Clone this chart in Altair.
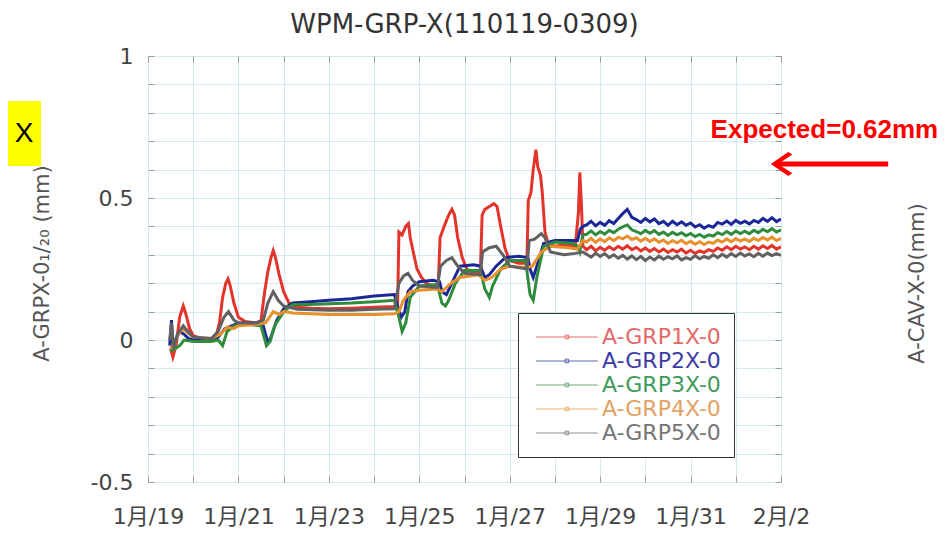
import altair as alt
import pandas as pd

# ---------------- data ----------------
series_names = ["A-GRP1X-0", "A-GRP2X-0", "A-GRP3X-0", "A-GRP4X-0", "A-GRP5X-0"]
line_colors = ["#e3342b", "#1b2796", "#2f8c3c", "#e8902c", "#616161"]
label_colors = ["#e46a6a", "#3c3ca6", "#3f9b5a", "#e2a265", "#757575"]

# day of January (Feb 1 = 32, Feb 2 = 33)
red_days = [19.50, 19.55, 19.62, 19.70, 19.78, 19.84, 19.92, 20.00, 20.20, 20.40,
            20.50, 20.58, 20.65, 20.72, 20.77, 20.82, 20.90, 21.00, 21.15, 21.40,
            21.50, 21.58, 21.65, 21.72, 21.77, 21.82, 21.90, 22.00, 22.12, 22.30,
            22.60, 23.00, 23.50, 24.00, 24.45, 24.52, 24.55, 24.62, 24.70, 24.76,
            24.80, 24.88, 24.95, 25.05, 25.15, 25.30, 25.42, 25.46, 25.55, 25.65,
            25.72, 25.78, 25.85, 25.95, 26.05, 26.20, 26.35, 26.39, 26.45, 26.55,
            26.65, 26.72, 26.80, 26.90, 27.00, 27.20, 27.38, 27.41, 27.47, 27.52,
            27.58, 27.62, 27.68, 27.72, 27.78, 27.85, 28.00, 28.20, 28.45, 28.52,
            28.55, 28.58, 28.62]
red_vals = [-0.03, -0.06, -0.02, 0.08, 0.12, 0.09, 0.04, 0.015, 0.005, 0.005,
            0.01, 0.06, 0.15, 0.20, 0.215, 0.19, 0.13, 0.08, 0.065, 0.06,
            0.07, 0.17, 0.24, 0.29, 0.315, 0.29, 0.23, 0.17, 0.13, 0.115,
            0.112, 0.11, 0.112, 0.115, 0.118, 0.12, 0.38, 0.37, 0.40, 0.41,
            0.36, 0.30, 0.25, 0.22, 0.20, 0.19, 0.195, 0.36, 0.40, 0.44,
            0.46, 0.44, 0.36, 0.29, 0.25, 0.235, 0.235, 0.44, 0.46, 0.47,
            0.48, 0.47, 0.40, 0.32, 0.28, 0.27, 0.27, 0.49, 0.52, 0.60,
            0.67, 0.61, 0.58, 0.52, 0.38, 0.34, 0.33, 0.335, 0.33, 0.45,
            0.59, 0.50, 0.33]

blue_days = [19.48, 19.52, 19.55, 19.60, 19.70, 19.80, 19.90, 20.00, 20.40, 20.55,
             20.70, 20.85, 21.00, 21.40, 21.55, 21.65, 21.72, 21.85, 22.00, 22.20,
             22.60, 23.00, 23.50, 24.00, 24.45, 24.52, 24.60, 24.68, 24.75, 24.85,
             25.00, 25.30, 25.45, 25.50, 25.60, 25.75, 25.90, 26.20, 26.35, 26.45,
             26.55, 26.70, 26.90, 27.20, 27.40, 27.45, 27.52, 27.60, 27.75, 28.00,
             28.30, 28.50, 28.56, 28.62]
blue_vals = [-0.02, 0.07, -0.02, 0.00, 0.03, 0.02, 0.005, 0.00, 0.00, 0.01,
             0.04, 0.05, 0.06, 0.06, 0.05, -0.01, 0.01, 0.07, 0.11, 0.13,
             0.135, 0.14, 0.145, 0.155, 0.16, 0.12, 0.08, 0.10, 0.17, 0.19,
             0.205, 0.21, 0.205, 0.17, 0.16, 0.21, 0.26, 0.265, 0.26, 0.22,
             0.23, 0.26, 0.29, 0.295, 0.29, 0.25, 0.22, 0.26, 0.34, 0.35,
             0.35, 0.35, 0.39, 0.40]

green_days = [19.50, 19.60, 19.70, 19.80, 20.00, 20.40, 20.55, 20.65, 20.75, 20.90,
              21.20, 21.50, 21.62, 21.70, 21.80, 22.00, 22.20, 22.60, 23.00, 23.50,
              24.00, 24.45, 24.55, 24.62, 24.70, 24.80, 25.00, 25.40, 25.50, 25.58,
              25.65, 25.80, 26.00, 26.35, 26.45, 26.55, 26.62, 26.80, 27.00, 27.35,
              27.45, 27.52, 27.60, 27.75, 28.00, 28.40, 28.50, 28.55, 28.58, 28.62]
green_vals = [-0.04, -0.03, -0.02, 0.00, -0.005, -0.005, 0.00, -0.02, 0.03, 0.05,
              0.055, 0.05, -0.02, -0.005, 0.05, 0.10, 0.125, 0.125, 0.128, 0.13,
              0.135, 0.14, 0.08, 0.03, 0.06, 0.15, 0.19, 0.195, 0.13, 0.12,
              0.14, 0.20, 0.245, 0.245, 0.18, 0.15, 0.19, 0.25, 0.28, 0.28,
              0.16, 0.14, 0.22, 0.33, 0.345, 0.34, 0.33, 0.31, 0.34, 0.37]

orange_days = [19.50, 19.60, 19.75, 19.85, 20.00, 20.40, 20.60, 20.75, 20.90, 21.00,
               21.40, 21.60, 21.77, 21.90, 22.00, 22.20, 22.60, 23.00, 23.50, 24.00,
               24.45, 24.55, 24.65, 24.80, 25.00, 25.40, 25.50, 25.70, 25.90, 26.30,
               26.45, 26.60, 26.80, 27.00, 27.35, 27.50, 27.70, 27.90, 28.30, 28.50,
               28.62]
orange_vals = [-0.03, 0.00, 0.04, 0.03, 0.01, 0.005, 0.02, 0.045, 0.04, 0.05,
               0.055, 0.06, 0.10, 0.09, 0.10, 0.095, 0.092, 0.09, 0.09, 0.09,
               0.092, 0.10, 0.14, 0.17, 0.175, 0.18, 0.17, 0.20, 0.22, 0.23,
               0.21, 0.22, 0.25, 0.26, 0.255, 0.26, 0.31, 0.33, 0.325, 0.32,
               0.35]

gray_days = [19.48, 19.52, 19.56, 19.65, 19.78, 19.88, 20.00, 20.40, 20.55, 20.68,
             20.78, 20.90, 21.00, 21.40, 21.55, 21.65, 21.77, 21.88, 22.00, 22.30,
             23.00, 23.50, 24.00, 24.45, 24.55, 24.65, 24.75, 24.85, 25.00, 25.40,
             25.47, 25.60, 25.72, 25.85, 26.00, 26.35, 26.40, 26.55, 26.70, 26.85,
             27.00, 27.38, 27.43, 27.55, 27.70, 27.78, 27.90, 28.20, 28.45, 28.62]
gray_vals = [0.00, 0.06, -0.03, 0.02, 0.05, 0.03, 0.01, 0.005, 0.03, 0.08,
             0.10, 0.07, 0.06, 0.06, 0.07, 0.13, 0.17, 0.14, 0.12, 0.108,
             0.105, 0.105, 0.108, 0.11, 0.20, 0.225, 0.235, 0.21, 0.19, 0.185,
             0.26, 0.28, 0.29, 0.26, 0.235, 0.23, 0.31, 0.325, 0.33, 0.30,
             0.26, 0.25, 0.35, 0.355, 0.375, 0.36, 0.31, 0.30, 0.305, 0.31]

# noisy plateau after Jan 28.6 (read as a jagged band)
late_days = [28.7, 28.8, 28.9, 29.0, 29.1, 29.2, 29.3, 29.4, 29.5, 29.6, 29.7,
             29.8, 29.9, 30.0, 30.1, 30.2, 30.3, 30.4, 30.5, 30.6, 30.7, 30.8,
             30.9, 31.0, 31.1, 31.2, 31.3, 31.4, 31.5, 31.6, 31.7, 31.8, 31.9,
             32.0, 32.1, 32.2, 32.3, 32.4, 32.5, 32.6, 32.7, 32.8, 32.9, 33.0]
red_late = [0.318, 0.330, 0.314, 0.326, 0.316, 0.328, 0.318, 0.330, 0.320, 0.332, 0.318,
            0.326, 0.314, 0.324, 0.312, 0.322, 0.310, 0.320, 0.308, 0.318, 0.310, 0.320,
            0.306, 0.316, 0.305, 0.314, 0.308, 0.318, 0.312, 0.324, 0.316, 0.328, 0.318,
            0.330, 0.320, 0.328, 0.318, 0.330, 0.320, 0.332, 0.322, 0.333, 0.320, 0.328]
blue_late = [0.405, 0.418, 0.402, 0.414, 0.404, 0.420, 0.410, 0.428, 0.445, 0.460, 0.432,
             0.424, 0.414, 0.428, 0.416, 0.426, 0.410, 0.418, 0.404, 0.418, 0.406, 0.416,
             0.404, 0.412, 0.398, 0.406, 0.394, 0.403, 0.397, 0.414, 0.408, 0.419, 0.407,
             0.421, 0.411, 0.418, 0.409, 0.421, 0.414, 0.428, 0.418, 0.431, 0.417, 0.426]
green_late = [0.372, 0.384, 0.370, 0.382, 0.373, 0.386, 0.378, 0.390, 0.398, 0.405, 0.388,
              0.382, 0.374, 0.386, 0.376, 0.385, 0.372, 0.380, 0.368, 0.379, 0.370, 0.378,
              0.367, 0.375, 0.364, 0.372, 0.362, 0.370, 0.366, 0.378, 0.371, 0.382, 0.372,
              0.384, 0.375, 0.383, 0.374, 0.386, 0.378, 0.390, 0.381, 0.392, 0.380, 0.388]
orange_late = [0.345, 0.358, 0.344, 0.356, 0.346, 0.360, 0.350, 0.362, 0.356, 0.366, 0.354,
               0.360, 0.348, 0.358, 0.347, 0.356, 0.344, 0.352, 0.340, 0.350, 0.342, 0.351,
               0.339, 0.348, 0.337, 0.346, 0.336, 0.345, 0.340, 0.352, 0.345, 0.356, 0.346,
               0.357, 0.348, 0.356, 0.347, 0.358, 0.350, 0.361, 0.352, 0.362, 0.350, 0.358]
gray_late = [0.302, 0.292, 0.306, 0.294, 0.304, 0.290, 0.300, 0.288, 0.298, 0.285, 0.296,
             0.283, 0.294, 0.280, 0.292, 0.282, 0.295, 0.284, 0.293, 0.286, 0.296, 0.282,
             0.290, 0.284, 0.297, 0.286, 0.294, 0.288, 0.300, 0.290, 0.302, 0.292, 0.304,
             0.294, 0.306, 0.296, 0.303, 0.293, 0.305, 0.295, 0.306, 0.297, 0.304, 0.298]

# axis ticks
x_tick_values = [19, 20, 21, 22, 23, 24, 25, 26, 27, 28, 29, 30, 31, 32, 33]
y_tick_values = [-0.5, -0.4, -0.3, -0.2, -0.1, 0, 0.1, 0.2, 0.3, 0.4, 0.5, 0.6, 0.7, 0.8, 0.9, 1.0]

# annotations (in data units)
title_text = ["WPM-GRP-X(110119-0309)"]
title_day = [26.0]
title_val = [1.080]
left_title = "A-GRPX-0₁/₂₀  (mm)"
right_title = ["A-CAV-X-0(mm)"]
right_title_day = [36.03]
right_title_val = [0.199]
expected_text = ["Expected=0.62mm"]
expected_day = [33.96]
expected_val = [0.71]
arrow_from = [35.37]
arrow_to = [32.86]
arrow_val = [0.62]
arrow_head_day = [33.04]
box_day = [15.90]
box_day2 = [16.634]
box_val = [0.6127]
box_val2 = [0.8415]
box_text = ["X"]
box_text_day = [16.258]
box_text_val = [0.727]

# ---------------- build tables ----------------
rows = []
for name, d, v in [
    (series_names[0], red_days + late_days, red_vals + red_late),
    (series_names[1], blue_days + late_days, blue_vals + blue_late),
    (series_names[2], green_days + late_days, green_vals + green_late),
    (series_names[3], orange_days + late_days, orange_vals + orange_late),
    (series_names[4], gray_days + late_days, gray_vals + gray_late),
]:
    for a, b in zip(d, v):
        rows.append({"series": name, "day": a, "val": b})
df = pd.DataFrame(rows)

FONT = "DejaVu Sans, Noto Sans CJK JP"
GRID = "#d4e9f0"
TICK = "#9a9a9a"

x_scale = alt.Scale(domain=[19, 33], nice=False, zero=False)
y_scale = alt.Scale(domain=[-0.5, 1.0], nice=False, zero=False)

x_label_expr = ("(datum.value - 19) % 2 == 0 ? (datum.value <= 31 ? '1月/' + datum.value "
                ": '2月/' + (datum.value - 31)) : ''")
y_label_expr = ("datum.value == 1 ? '1' : datum.value == 0.5 ? '0.5' : datum.value == 0 ? '0' "
                ": datum.value == -0.5 ? '-0.5' : ''")

main_x_axis = alt.Axis(values=x_tick_values, labelExpr=x_label_expr, grid=True, gridColor=GRID,
                       gridWidth=1, ticks=False, domain=False, labelPadding=24, labelFontSize=22,
                       labelFont=FONT, labelColor="#444444", labelOverlap=False, labelBound=False,
                       labelFlush=False, title=None)
main_y_axis = alt.Axis(values=y_tick_values, labelExpr=y_label_expr, grid=True, gridColor=GRID,
                       gridWidth=1, ticks=False, domain=False, labelPadding=15, labelFontSize=22,
                       labelFont=FONT, labelColor="#444444", labelOverlap=False, labelBound=False,
                       labelFlush=False, title=left_title, titleFont=FONT, titleFontSize=21,
                       titleFontWeight="normal", titleColor="#555555", titleAngle=270,
                       titleAlign="center", titleBaseline="middle", titleX=-106, titleY=207)


def tick_axis(orient, vals):
    return alt.Axis(values=vals, orient=orient, offset=-6, ticks=True, tickSize=6,
                    tickColor=TICK, tickWidth=1, labels=False, grid=False, domain=False, title=None)


label_color_expr = ("datum.label == '" + series_names[0] + "' ? '" + label_colors[0] + "' : "
                    "datum.label == '" + series_names[1] + "' ? '" + label_colors[1] + "' : "
                    "datum.label == '" + series_names[2] + "' ? '" + label_colors[2] + "' : "
                    "datum.label == '" + series_names[3] + "' ? '" + label_colors[3] + "' : '"
                    + label_colors[4] + "'")

SYMBOL = "M -1 0 L 9.3 0 M 3.85 -0.3 L 4.45 -0.3 L 4.45 0.3 L 3.85 0.3 Z"

legend = alt.Legend(orient="none", legendX=370, legendY=257, title=None, direction="vertical",
                    symbolType=SYMBOL, symbolSize=144, symbolStrokeWidth=1, symbolOpacity=0.7,
                    labelFont=FONT, labelFontSize=22, labelOffset=49,
                    labelColor={"expr": label_color_expr}, labelLimit=400,
                    padding=13, rowPadding=2, strokeColor="#333333", fillColor="#ffffff",
                    cornerRadius=0)

lines = alt.Chart(df).mark_line(strokeWidth=3, clip=True).encode(
    x=alt.X("day:Q", scale=x_scale, axis=main_x_axis),
    y=alt.Y("val:Q", scale=y_scale, axis=main_y_axis),
    color=alt.Color("series:N", scale=alt.Scale(domain=series_names, range=line_colors),
                    legend=legend),
)

ticks_tr = alt.Chart(df).mark_line(opacity=0).encode(
    x=alt.X("day:Q", scale=x_scale, axis=tick_axis("top", x_tick_values)),
    y=alt.Y("val:Q", scale=y_scale, axis=tick_axis("right", y_tick_values)),
    detail="series:N",
)
ticks_bl = alt.Chart(df).mark_line(opacity=0).encode(
    x=alt.X("day:Q", scale=x_scale, axis=tick_axis("bottom", x_tick_values)),
    y=alt.Y("val:Q", scale=y_scale, axis=tick_axis("left", y_tick_values)),
    detail="series:N",
)

title_df = pd.DataFrame({"day": title_day, "val": title_val, "t": title_text})
title_t = alt.Chart(title_df).mark_text(font=FONT, fontSize=26, color="#333333", align="center",
                                        baseline="alphabetic").encode(
    x=alt.X("day:Q", scale=x_scale, axis=None), y=alt.Y("val:Q", scale=y_scale, axis=None),
    text="t:N")

box_df = pd.DataFrame({"d1": box_day, "d2": box_day2, "v1": box_val, "v2": box_val2})
box = alt.Chart(box_df).mark_rect(color="#ffff00").encode(
    x=alt.X("d1:Q", scale=x_scale, axis=None), x2="d2:Q",
    y=alt.Y("v1:Q", scale=y_scale, axis=None), y2="v2:Q",
)
box_t_df = pd.DataFrame({"day": box_text_day, "val": box_text_val, "t": box_text})
box_t = alt.Chart(box_t_df).mark_text(font="Liberation Sans", fontSize=28, color="#000000",
                                      align="center", baseline="middle").encode(
    x=alt.X("day:Q", scale=x_scale, axis=None), y=alt.Y("val:Q", scale=y_scale, axis=None),
    text="t:N")

exp_df = pd.DataFrame({"day": expected_day, "val": expected_val, "t": expected_text})
exp_t = alt.Chart(exp_df).mark_text(font="Liberation Sans", fontSize=26, fontWeight="bold",
                                    color="#ff0000", align="center",
                                    baseline="alphabetic").encode(
    x=alt.X("day:Q", scale=x_scale, axis=None), y=alt.Y("val:Q", scale=y_scale, axis=None),
    text="t:N")

arrow_df = pd.DataFrame({"d1": arrow_from, "d2": arrow_to, "val": arrow_val})
shaft = alt.Chart(arrow_df).mark_rule(color="#ff0000", strokeWidth=5).encode(
    x=alt.X("d1:Q", scale=x_scale, axis=None), x2="d2:Q",
    y=alt.Y("val:Q", scale=y_scale, axis=None))
head_df = pd.DataFrame({"day": arrow_head_day, "val": arrow_val})
HEAD = "M -1 0 L 0.45 -1 L 0.8 -0.78 L -0.4 0 L 0.8 0.78 L 0.45 1 Z"
head = alt.Chart(head_df).mark_point(shape=HEAD, size=576, filled=True, color="#ff0000",
                                     opacity=1, strokeWidth=0).encode(
    x=alt.X("day:Q", scale=x_scale, axis=None), y=alt.Y("val:Q", scale=y_scale, axis=None))

rt_df = pd.DataFrame({"day": right_title_day, "val": right_title_val, "t": right_title})
rt = alt.Chart(rt_df).mark_text(font=FONT, fontSize=21, color="#555555", angle=270,
                                align="center", baseline="middle").encode(
    x=alt.X("day:Q", scale=x_scale, axis=None), y=alt.Y("val:Q", scale=y_scale, axis=None),
    text="t:N")

chart = alt.layer(lines, ticks_tr, ticks_bl, title_t, box, box_t, exp_t, shaft, head,
                  rt).resolve_axis(
    x="independent", y="independent"
).properties(
    width=633, height=426,
    padding={"left": 140, "top": 48, "right": 163, "bottom": 45},
    autosize=alt.AutoSizeParams(type="none"),
).configure_view(stroke="#9a9a9a", strokeWidth=1).configure(background="#ffffff")

chart.save("out.html", embed_options={"renderer": "svg", "actions": False})
